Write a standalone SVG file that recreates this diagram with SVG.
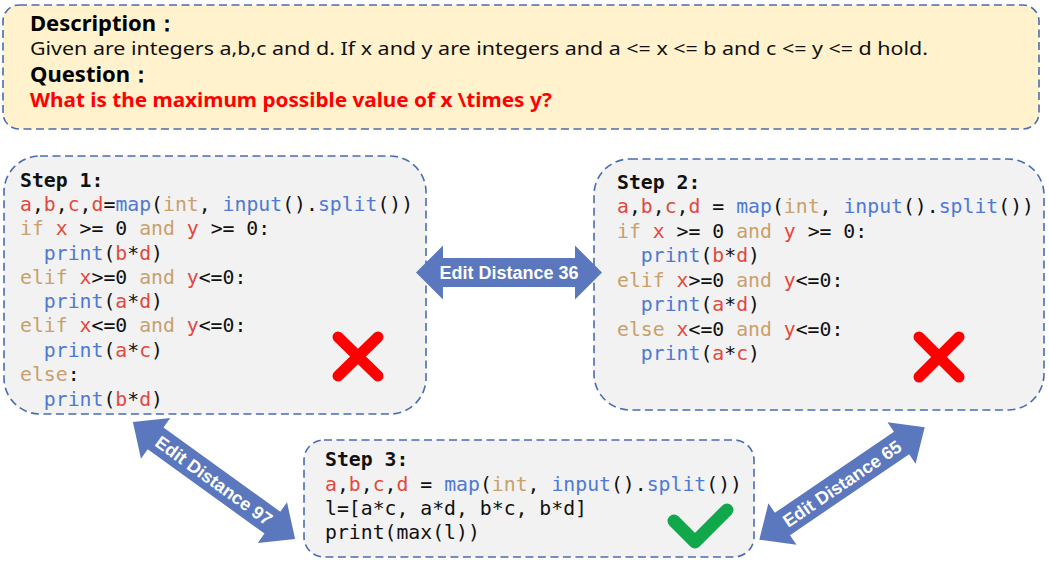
<svg xmlns="http://www.w3.org/2000/svg" width="1049" height="562" viewBox="0 0 1049 562">
<style>
.box{stroke:#4A6CB3;stroke-width:1.6;stroke-dasharray:8 4.5}
.code{font-family:"DejaVu Sans Mono","Liberation Mono",monospace;font-size:19.8px;fill:#111;white-space:pre}
.hd{font-weight:bold}
.r{fill:#E2483D}
.k{fill:#C9A06C}
.b{fill:#4F79D4}
.lbl{font-family:"Liberation Sans",Arial,sans-serif;font-weight:bold;font-size:18px;fill:#fff;text-anchor:middle}
.arr{fill:#5B77BD}
.sans{font-family:"Noto Sans","Open Sans",sans-serif}
</style>
<rect width="1049" height="562" fill="#fff"/>
<g id="problem">
<rect class="box" x="3" y="5" width="1036" height="124" rx="16" fill="#FFF2CC"/>
<text class="sans" x="30" y="31" font-size="22" font-weight="bold" fill="#000">Description：</text>
<text class="sans" x="30" y="55" font-size="18" fill="#111" textLength="898" lengthAdjust="spacingAndGlyphs">Given are integers a,b,c and d. If x and y are integers and a &lt;= x &lt;= b and c &lt;= y &lt;= d hold.</text>
<text class="sans" x="30" y="82" font-size="22" font-weight="bold" fill="#000">Question：</text>
<text class="sans" x="30" y="107" font-size="19.5" font-weight="bold" fill="#FF0000" textLength="522" lengthAdjust="spacingAndGlyphs">What is the maximum possible value of x \times y?</text>
</g>
<g id="step1">
<rect class="box" x="4" y="156" width="422" height="258" rx="36" fill="#F2F2F2"/>
<text class="code hd" x="20" y="187">Step 1:</text>
<text class="code" x="20" y="211"><tspan class="r">a</tspan>,<tspan class="r">b</tspan>,<tspan class="r">c</tspan>,<tspan class="r">d</tspan>=<tspan class="b">map</tspan>(<tspan class="k">int</tspan>, <tspan class="b">input</tspan>().<tspan class="b">split</tspan>())</text>
<text class="code" x="20" y="235"><tspan class="k">if</tspan> <tspan class="r">x</tspan> &gt;= 0 <tspan class="k">and</tspan> <tspan class="r">y</tspan> &gt;= 0:</text>
<text class="code" x="20" y="260">  <tspan class="b">print</tspan>(<tspan class="r">b</tspan>*<tspan class="r">d</tspan>)</text>
<text class="code" x="20" y="284"><tspan class="k">elif</tspan> <tspan class="r">x</tspan>&gt;=0 <tspan class="k">and</tspan> <tspan class="r">y</tspan>&lt;=0:</text>
<text class="code" x="20" y="308">  <tspan class="b">print</tspan>(<tspan class="r">a</tspan>*<tspan class="r">d</tspan>)</text>
<text class="code" x="20" y="332"><tspan class="k">elif</tspan> <tspan class="r">x</tspan>&lt;=0 <tspan class="k">and</tspan> <tspan class="r">y</tspan>&lt;=0:</text>
<text class="code" x="20" y="357">  <tspan class="b">print</tspan>(<tspan class="r">a</tspan>*<tspan class="r">c</tspan>)</text>
<text class="code" x="20" y="381"><tspan class="k">else</tspan>:</text>
<text class="code" x="20" y="406">  <tspan class="b">print</tspan>(<tspan class="r">b</tspan>*<tspan class="r">d</tspan>)</text>
<path d="M338 337 L378 376 M378 337 L338 376" stroke="#FF0000" stroke-width="11" stroke-linecap="round" fill="none"/>
</g>
<g id="step2">
<rect class="box" x="594" y="159" width="450" height="251" rx="36" fill="#F2F2F2"/>
<text class="code hd" x="617" y="189">Step 2:</text>
<text class="code" x="617" y="213"><tspan class="r">a</tspan>,<tspan class="r">b</tspan>,<tspan class="r">c</tspan>,<tspan class="r">d</tspan> = <tspan class="b">map</tspan>(<tspan class="k">int</tspan>, <tspan class="b">input</tspan>().<tspan class="b">split</tspan>())</text>
<text class="code" x="617" y="238"><tspan class="k">if</tspan> <tspan class="r">x</tspan> &gt;= 0 <tspan class="k">and</tspan> <tspan class="r">y</tspan> &gt;= 0:</text>
<text class="code" x="617" y="262">  <tspan class="b">print</tspan>(<tspan class="r">b</tspan>*<tspan class="r">d</tspan>)</text>
<text class="code" x="617" y="287"><tspan class="k">elif</tspan> <tspan class="r">x</tspan>&gt;=0 <tspan class="k">and</tspan> <tspan class="r">y</tspan>&lt;=0:</text>
<text class="code" x="617" y="311">  <tspan class="b">print</tspan>(<tspan class="r">a</tspan>*<tspan class="r">d</tspan>)</text>
<text class="code" x="617" y="336"><tspan class="k">else</tspan> <tspan class="r">x</tspan>&lt;=0 <tspan class="k">and</tspan> <tspan class="r">y</tspan>&lt;=0:</text>
<text class="code" x="617" y="360">  <tspan class="b">print</tspan>(<tspan class="r">a</tspan>*<tspan class="r">c</tspan>)</text>
<path d="M919 337 L959 377 M959 337 L919 377" stroke="#FF0000" stroke-width="11" stroke-linecap="round" fill="none"/>
</g>
<g id="step3">
<rect class="box" x="304" y="440" width="450" height="117" rx="20" fill="#F2F2F2"/>
<text class="code hd" x="325" y="466">Step 3:</text>
<text class="code" x="325" y="491"><tspan class="r">a</tspan>,<tspan class="r">b</tspan>,<tspan class="r">c</tspan>,<tspan class="r">d</tspan> = <tspan class="b">map</tspan>(<tspan class="k">int</tspan>, <tspan class="b">input</tspan>().<tspan class="b">split</tspan>())</text>
<text class="code" x="325" y="515">l=[a*c, a*d, b*c, b*d]</text>
<text class="code" x="325" y="539">print(max(l))</text>
<path d="M674 521 L695 542 L727 510" stroke="#10A84A" stroke-width="13" stroke-linecap="round" stroke-linejoin="round" fill="none"/>
</g>
<g id="connectors">
<g transform="translate(509 272.5)">
<polygon class="arr" points="-93,0 -66,-27 -66,-14.5 66,-14.5 66,-27 93,0 66,27 66,14.5 -66,14.5 -66,27"/>
<text class="lbl" x="0" y="6.5">Edit Distance 36</text>
</g>
<g transform="translate(214 480.5) rotate(35.8)">
<polygon class="arr" points="-100,0 -72,-25 -72,-13.5 72,-13.5 72,-25 100,0 72,25 72,13.5 -72,13.5 -72,25"/>
<text class="lbl" x="0" y="6.5">Edit Distance 97</text>
</g>
<g transform="translate(842 483.5) rotate(-34.2)">
<polygon class="arr" points="-100,0 -72,-25 -72,-13.5 72,-13.5 72,-25 100,0 72,25 72,13.5 -72,13.5 -72,25"/>
<text class="lbl" x="0" y="6.5">Edit Distance 65</text>
</g>
</g>
</svg>
